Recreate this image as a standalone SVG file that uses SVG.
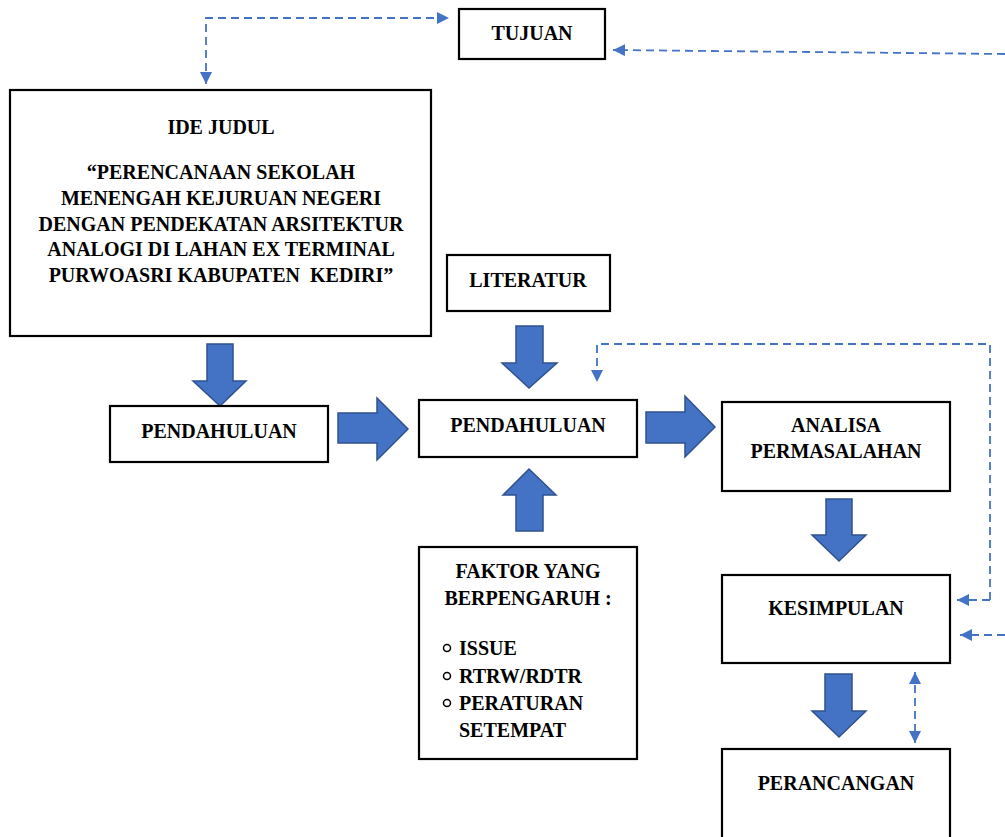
<svg xmlns="http://www.w3.org/2000/svg" width="1005" height="837" viewBox="0 0 1005 837">
<style>
.box{fill:#fff;stroke:#000;stroke-width:2.2}
.t{font-family:"Liberation Serif","Times New Roman",serif;font-weight:bold;font-size:20px;fill:#000}
.c{text-anchor:middle}
.blk{fill:#4472C4;stroke:#2F528F;stroke-width:1.5;stroke-linejoin:miter}
.dash{fill:none;stroke:#4472C4;stroke-width:1.8;stroke-dasharray:8 5}
.bul{fill:none;stroke:#000;stroke-width:1.5}
</style>
<defs>
<marker id="ah" viewBox="0 0 10 10" refX="10" refY="5" markerWidth="12" markerHeight="12" markerUnits="userSpaceOnUse" orient="auto-start-reverse">
<path d="M0,0 L10,5 L0,10 Z" fill="#4472C4"/>
</marker>
</defs>
<g id="connectors">
<polyline class="dash" points="206,84 206,18 449,18" marker-start="url(#ah)" marker-end="url(#ah)"/>
<line class="dash" x1="1005" y1="54" x2="613" y2="50" marker-end="url(#ah)"/>
<polyline class="dash" points="990,600 990,344 597,344 597,382" marker-start="url(#ah)" marker-end="url(#ah)" style="marker-start:none"/>
<line class="dash" x1="990" y1="600" x2="957" y2="600" marker-end="url(#ah)"/>
<line class="dash" x1="1005" y1="635" x2="960" y2="635" marker-end="url(#ah)"/>
<line class="dash" x1="915" y1="672" x2="915" y2="743" marker-start="url(#ah)" marker-end="url(#ah)"/>
<path class="blk" d="M207,344 H233 V381 H246 L220,406 L193,381 H207 Z"/>
<path class="blk" d="M338,413 H377 V398 L408,429 L377,460 V443 H338 Z"/>
<path class="blk" d="M646,412 H685 V396 L715,427 L685,457 V443 H646 Z"/>
<path class="blk" d="M516,326 H543 V363 H557 L529,388 L502,363 H516 Z"/>
<path class="blk" d="M516,531 H543 V495 H556 L529,469 L503,495 H516 Z"/>
<path class="blk" d="M826,499 H852 V535 H866 L839,561 L812,535 H826 Z"/>
<path class="blk" d="M825,674 H852 V711 H866 L839,737 L812,711 H825 Z"/>
</g>
<g id="tujuan">
<rect class="box" x="459" y="9" width="146" height="50"/>
<text class="t c" x="532" y="40">TUJUAN</text>
</g>
<g id="ide-judul">
<rect class="box" x="10" y="90" width="421" height="246"/>
<text class="t c" x="221" y="134">IDE JUDUL</text>
<text class="t c" x="221" y="179">“PERENCANAAN SEKOLAH</text>
<text class="t c" x="221" y="205">MENENGAH KEJURUAN NEGERI</text>
<text class="t c" x="221" y="231">DENGAN PENDEKATAN ARSITEKTUR</text>
<text class="t c" x="221" y="256">ANALOGI DI LAHAN EX TERMINAL</text>
<text class="t c" x="221" y="282" xml:space="preserve">PURWOASRI KABUPATEN  KEDIRI”</text>
</g>
<g id="literatur">
<rect class="box" x="447" y="255" width="163" height="56"/>
<text class="t c" x="528" y="287">LITERATUR</text>
</g>
<g id="pendahuluan-kiri">
<rect class="box" x="110" y="406" width="218" height="56"/>
<text class="t c" x="219" y="438">PENDAHULUAN</text>
</g>
<g id="pendahuluan-tengah">
<rect class="box" x="419" y="400" width="218" height="57"/>
<text class="t c" x="528" y="432">PENDAHULUAN</text>
</g>
<g id="analisa">
<rect class="box" x="722" y="402" width="228" height="89"/>
<text class="t c" x="836" y="432">ANALISA</text>
<text class="t c" x="836" y="458">PERMASALAHAN</text>
</g>
<g id="kesimpulan">
<rect class="box" x="722" y="575" width="228" height="88"/>
<text class="t c" x="836" y="615">KESIMPULAN</text>
</g>
<g id="perancangan">
<rect class="box" x="722" y="749" width="228" height="100"/>
<text class="t c" x="836" y="790">PERANCANGAN</text>
</g>
<g id="faktor">
<rect class="box" x="419" y="547" width="218" height="212"/>
<text class="t c" x="528" y="578">FAKTOR YANG</text>
<text class="t c" x="528" y="605">BERPENGARUH :</text>
<circle class="bul" cx="447" cy="648" r="3.5"/>
<text class="t" x="459" y="655">ISSUE</text>
<circle class="bul" cx="447" cy="676" r="3.5"/>
<text class="t" x="459" y="683">RTRW/RDTR</text>
<circle class="bul" cx="447" cy="703" r="3.5"/>
<text class="t" x="459" y="710">PERATURAN</text>
<text class="t" x="459" y="737">SETEMPAT</text>
</g>
</svg>
